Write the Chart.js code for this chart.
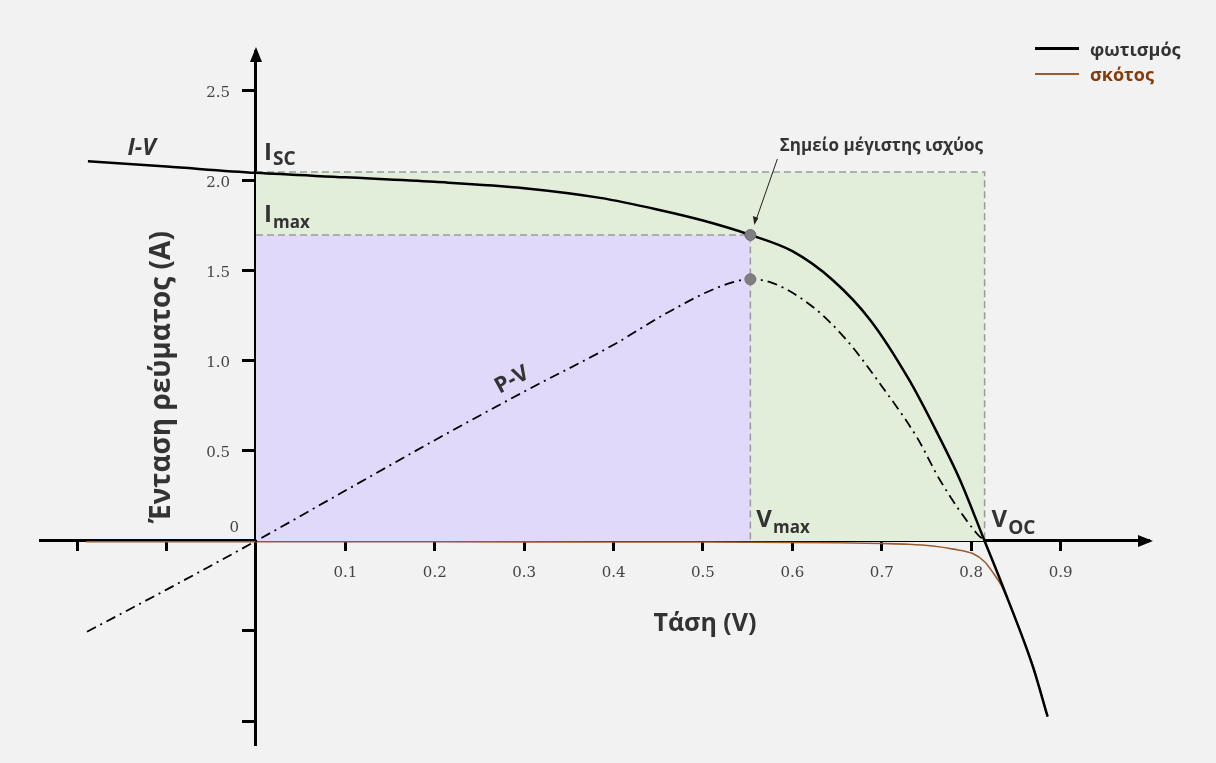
<!DOCTYPE html>
<html>
<head>
<meta charset="utf-8">
<script src="https://cdn.jsdelivr.net/npm/chart.js@4.4.1/dist/chart.umd.min.js"></script>
<style>
  html, body { margin: 0; padding: 0; background: #f2f2f2; }
  #wrap { position: relative; width: 1216px; height: 763px; }
  .legend { position: absolute; left: 1035px; top: 36px; font-family: 'Open Sans', sans-serif; font-weight: 700; font-size: 18px; }
  .legend div { display: flex; align-items: center; height: 25px; }
  .legend .sw { display: inline-block; width: 44px; height: 3px; margin-right: 11px; }
</style>
</head>
<body>
<div id="wrap">
  <canvas id="chart"></canvas>
  <div class="legend">
    <div style="color:#333"><span class="sw" style="background:#000"></span>φωτισμός</div>
    <div style="color:#843c0c"><span class="sw" style="background:#9a5b2e;height:2px"></span>σκότος</div>
  </div>
</div>
<script>
// I-V curve under light (φωτισμός)
const ivVoltage = [-0.188, -0.1, 0, 0.1, 0.2, 0.3, 0.385, 0.45, 0.5, 0.553, 0.6, 0.645, 0.687, 0.73, 0.76, 0.7875, 0.815, 0.834, 0.869, 0.8855];
const ivCurrent = [2.11, 2.08, 2.045, 2.02, 1.995, 1.96, 1.906, 1.84, 1.78, 1.70, 1.61, 1.45, 1.228, 0.90, 0.62, 0.339, 0, -0.235, -0.698, -0.976];

// dark curve (σκότος)
const darkVoltage = [-0.19, 0, 0.3, 0.5, 0.6, 0.65, 0.7, 0.73, 0.757, 0.78, 0.8017, 0.815, 0.825, 0.834, 0.85, 0.869, 0.8855];
const darkCurrent = [-0.004, -0.004, -0.005, -0.006, -0.008, -0.01, -0.014, -0.018, -0.028, -0.045, -0.07, -0.115, -0.18, -0.25, -0.44, -0.69, -0.975];

// P-V curve
const pvVoltage = [-0.189, -0.1, 0, 0.1, 0.2, 0.3, 0.4, 0.459, 0.519, 0.553, 0.578, 0.623, 0.66, 0.7, 0.74, 0.765, 0.806, 0.815];
const pvPower = [-0.504, -0.27, 0, 0.28, 0.56, 0.83, 1.09, 1.265, 1.413, 1.454, 1.433, 1.30, 1.12, 0.86, 0.57, 0.339, 0.043, 0];

// characteristic points
const iSc = 2.05;
const vOc = 0.815;
const vMax = 0.553;
const iMax = 1.70;
const pMax = 1.454;

// ticks
const xTicks = [-0.2, -0.1, 0, 0.1, 0.2, 0.3, 0.4, 0.5, 0.6, 0.7, 0.8, 0.9];
const xTickLabels = ['', '', '', '0.1', '0.2', '0.3', '0.4', '0.5', '0.6', '0.7', '0.8', '0.9'];
const yTicks = [-1.0, -0.5, 0, 0.5, 1.0, 1.5, 2.0, 2.5];
const yTickLabels = ['', '', '0', '0.5', '1.0', '1.5', '2.0', '2.5'];

const toPoints = (xs, ys) => xs.map((v, i) => ({ x: v, y: ys[i] }));

const sans = "'Open Sans', sans-serif";
const tickFont = { family: "'DejaVu Serif', serif", size: 15 };

// draws a letter with a subscript
const drawSub = function drawSubscript(ctx, main, sub, left, base, mainSize, subSize, drop) {
  ctx.font = `700 ${mainSize}px ${sans}`;
  ctx.fillText(main, left, base);
  const w = ctx.measureText(main).width;
  ctx.font = `700 ${subSize}px ${sans}`;
  ctx.fillText(sub, left + w + 1, base + drop);
};

const annotations = {
  id: 'annotations',
  afterDraw(chart) {
    const { ctx, chartArea, scales: { x, y } } = chart;
    const x0 = x.getPixelForValue(0);
    const y0 = y.getPixelForValue(0);
    ctx.save();

    // arrow heads
    ctx.fillStyle = '#000';
    ctx.beginPath();
    ctx.moveTo(chartArea.right + 4, y0);
    ctx.lineTo(chartArea.right - 11, y0 - 6);
    ctx.lineTo(chartArea.right - 11, y0 + 6);
    ctx.closePath();
    ctx.fill();
    ctx.beginPath();
    ctx.moveTo(x0, chartArea.top - 4);
    ctx.lineTo(x0 - 6, chartArea.top + 11);
    ctx.lineTo(x0 + 6, chartArea.top + 11);
    ctx.closePath();
    ctx.fill();

    // y tick labels (left of the axis), "0" sits above-left of the origin
    ctx.font = `${tickFont.size}px ${tickFont.family}`;
    ctx.fillStyle = '#444';
    ctx.textAlign = 'right';
    ctx.textBaseline = 'middle';
    yTicks.forEach((v, i) => {
      if (!yTickLabels[i]) return;
      if (v === 0) {
        ctx.fillText(yTickLabels[i], x0 - 17, y0 - 13);
      } else {
        ctx.fillText(yTickLabels[i], x0 - 26, y.getPixelForValue(v) + 2);
      }
    });

    // axis titles
    ctx.fillStyle = '#333';
    ctx.textAlign = 'center';
    ctx.font = `700 25px ${sans}`;
    ctx.fillText('Τάση (V)', x.getPixelForValue(0.5) + 2, y0 + 83);
    ctx.save();
    ctx.translate(x0 - 94, y.getPixelForValue(0.91));
    ctx.rotate(-Math.PI / 2);
    ctx.font = `700 28px ${sans}`;
    ctx.fillText('Ένταση ρεύματος (A)', 0, 0);
    ctx.restore();

    // curve labels
    ctx.font = `italic 700 23px ${sans}`;
    ctx.fillText('I-V', x.getPixelForValue(-0.128), y.getPixelForValue(2.18));
    ctx.save();
    ctx.translate(x0 + 256, y0 - 161);
    ctx.rotate(-28.5 * Math.PI / 180);
    ctx.font = `700 22px ${sans}`;
    ctx.fillText('P-V', 0, 0);
    ctx.restore();

    // subscripted labels
    ctx.textAlign = 'left';
    ctx.textBaseline = 'alphabetic';
    drawSub(ctx, 'I', 'SC', x0 + 8, y.getPixelForValue(iSc) - 12, 24, 19, 5);
    drawSub(ctx, 'I', 'max', x0 + 8, y.getPixelForValue(iMax) - 13, 24, 17, 6);
    drawSub(ctx, 'V', 'max', x.getPixelForValue(vMax) + 6, y0 - 14, 24, 17, 6);
    drawSub(ctx, 'V', 'OC', x.getPixelForValue(vOc) + 7, y0 - 14, 24, 19, 7);

    // maximum power point note
    const mx = x.getPixelForValue(vMax);
    const my = y.getPixelForValue(iMax);
    ctx.textAlign = 'center';
    ctx.textBaseline = 'middle';
    ctx.font = `700 17px ${sans}`;
    ctx.fillText('Σημείο μέγιστης ισχύος', mx + 131, my - 89);
    ctx.strokeStyle = '#222';
    ctx.lineWidth = 1;
    ctx.beginPath();
    ctx.moveTo(mx + 27, my - 76);
    ctx.lineTo(mx + 5, my - 13);
    ctx.stroke();
    ctx.fillStyle = '#222';
    ctx.beginPath();
    ctx.moveTo(mx + 4, my - 10);
    ctx.lineTo(mx + 2.5, my - 19);
    ctx.lineTo(mx + 8, my - 17);
    ctx.closePath();
    ctx.fill();

    ctx.restore();
  }
};

new Chart(document.getElementById('chart'), {
  type: 'line',
  data: {
    datasets: [
      {
        label: 'points',
        data: [{ x: vMax, y: iMax }, { x: vMax, y: pMax }],
        showLine: false,
        pointRadius: 5.5,
        pointBackgroundColor: '#7f7f7f',
        pointBorderColor: '#6f6f6f',
        pointBorderWidth: 1,
        order: 0,
      },
      {
        label: 'φωτισμός',
        data: toPoints(ivVoltage, ivCurrent),
        borderColor: '#000',
        borderWidth: 2.5,
        pointRadius: 0,
        cubicInterpolationMode: 'monotone',
        order: 1,
      },
      {
        label: 'P-V',
        data: toPoints(pvVoltage, pvPower),
        borderColor: '#000',
        borderWidth: 1.8,
        borderDash: [10, 5, 2, 5],
        pointRadius: 0,
        cubicInterpolationMode: 'monotone',
        order: 2,
      },
      {
        label: 'σκότος',
        data: toPoints(darkVoltage, darkCurrent),
        borderColor: '#9a5b2e',
        borderWidth: 1.6,
        pointRadius: 0,
        cubicInterpolationMode: 'monotone',
        order: 3,
      },
      {
        label: 'Pmax',
        data: [{ x: 0, y: iMax }, { x: vMax, y: iMax }, { x: vMax, y: 0 }],
        borderColor: '#9a9a9a',
        borderWidth: 1.5,
        borderDash: [7, 4],
        backgroundColor: '#e1d9fa',
        fill: 'origin',
        pointRadius: 0,
        tension: 0,
        order: 4,
      },
      {
        label: 'Isc Voc',
        data: [{ x: 0, y: iSc }, { x: vOc, y: iSc }, { x: vOc, y: 0 }],
        borderColor: '#9a9a9a',
        borderWidth: 1.5,
        borderDash: [7, 4],
        backgroundColor: '#e2eed9',
        fill: 'origin',
        pointRadius: 0,
        tension: 0,
        order: 5,
      },
    ],
  },
  options: {
    responsive: true,
    maintainAspectRatio: false,
    animation: false,
    events: [],
    layout: { padding: { left: 40, right: 67, top: 51, bottom: 18 } },
    plugins: { legend: { display: false }, tooltip: { enabled: false } },
    scales: {
      x: {
        type: 'linear',
        min: -0.2416,
        max: 0.9989,
        position: { y: 0 },
        z: 1,
        afterFit: s => { s.height = 0; },
        afterBuildTicks: s => { s.ticks = xTicks.map(v => ({ value: v })); },
        grid: { drawOnChartArea: false, drawTicks: true, tickLength: 9, tickWidth: 3, tickColor: '#000' },
        border: { display: true, color: '#000', width: 3 },
        ticks: { autoSkip: false, maxRotation: 0, padding: 14, color: '#444', font: tickFont, callback: (v, i) => xTickLabels[i] },
      },
      y: {
        type: 'linear',
        min: -1.1333,
        max: 2.722,
        position: { x: 0 },
        z: 1,
        afterFit: s => { s.width = 0; },
        afterBuildTicks: s => { s.ticks = yTicks.map(v => ({ value: v })); },
        grid: { drawOnChartArea: false, drawTicks: true, tickLength: 12, tickWidth: 3, tickColor: '#000' },
        border: { display: true, color: '#000', width: 3 },
        // labels are placed by the annotations plugin, since a value-positioned axis puts them on the line
        ticks: { autoSkip: false, display: false },
      },
    },
  },
  plugins: [annotations],
});
</script>
</body>
</html>
